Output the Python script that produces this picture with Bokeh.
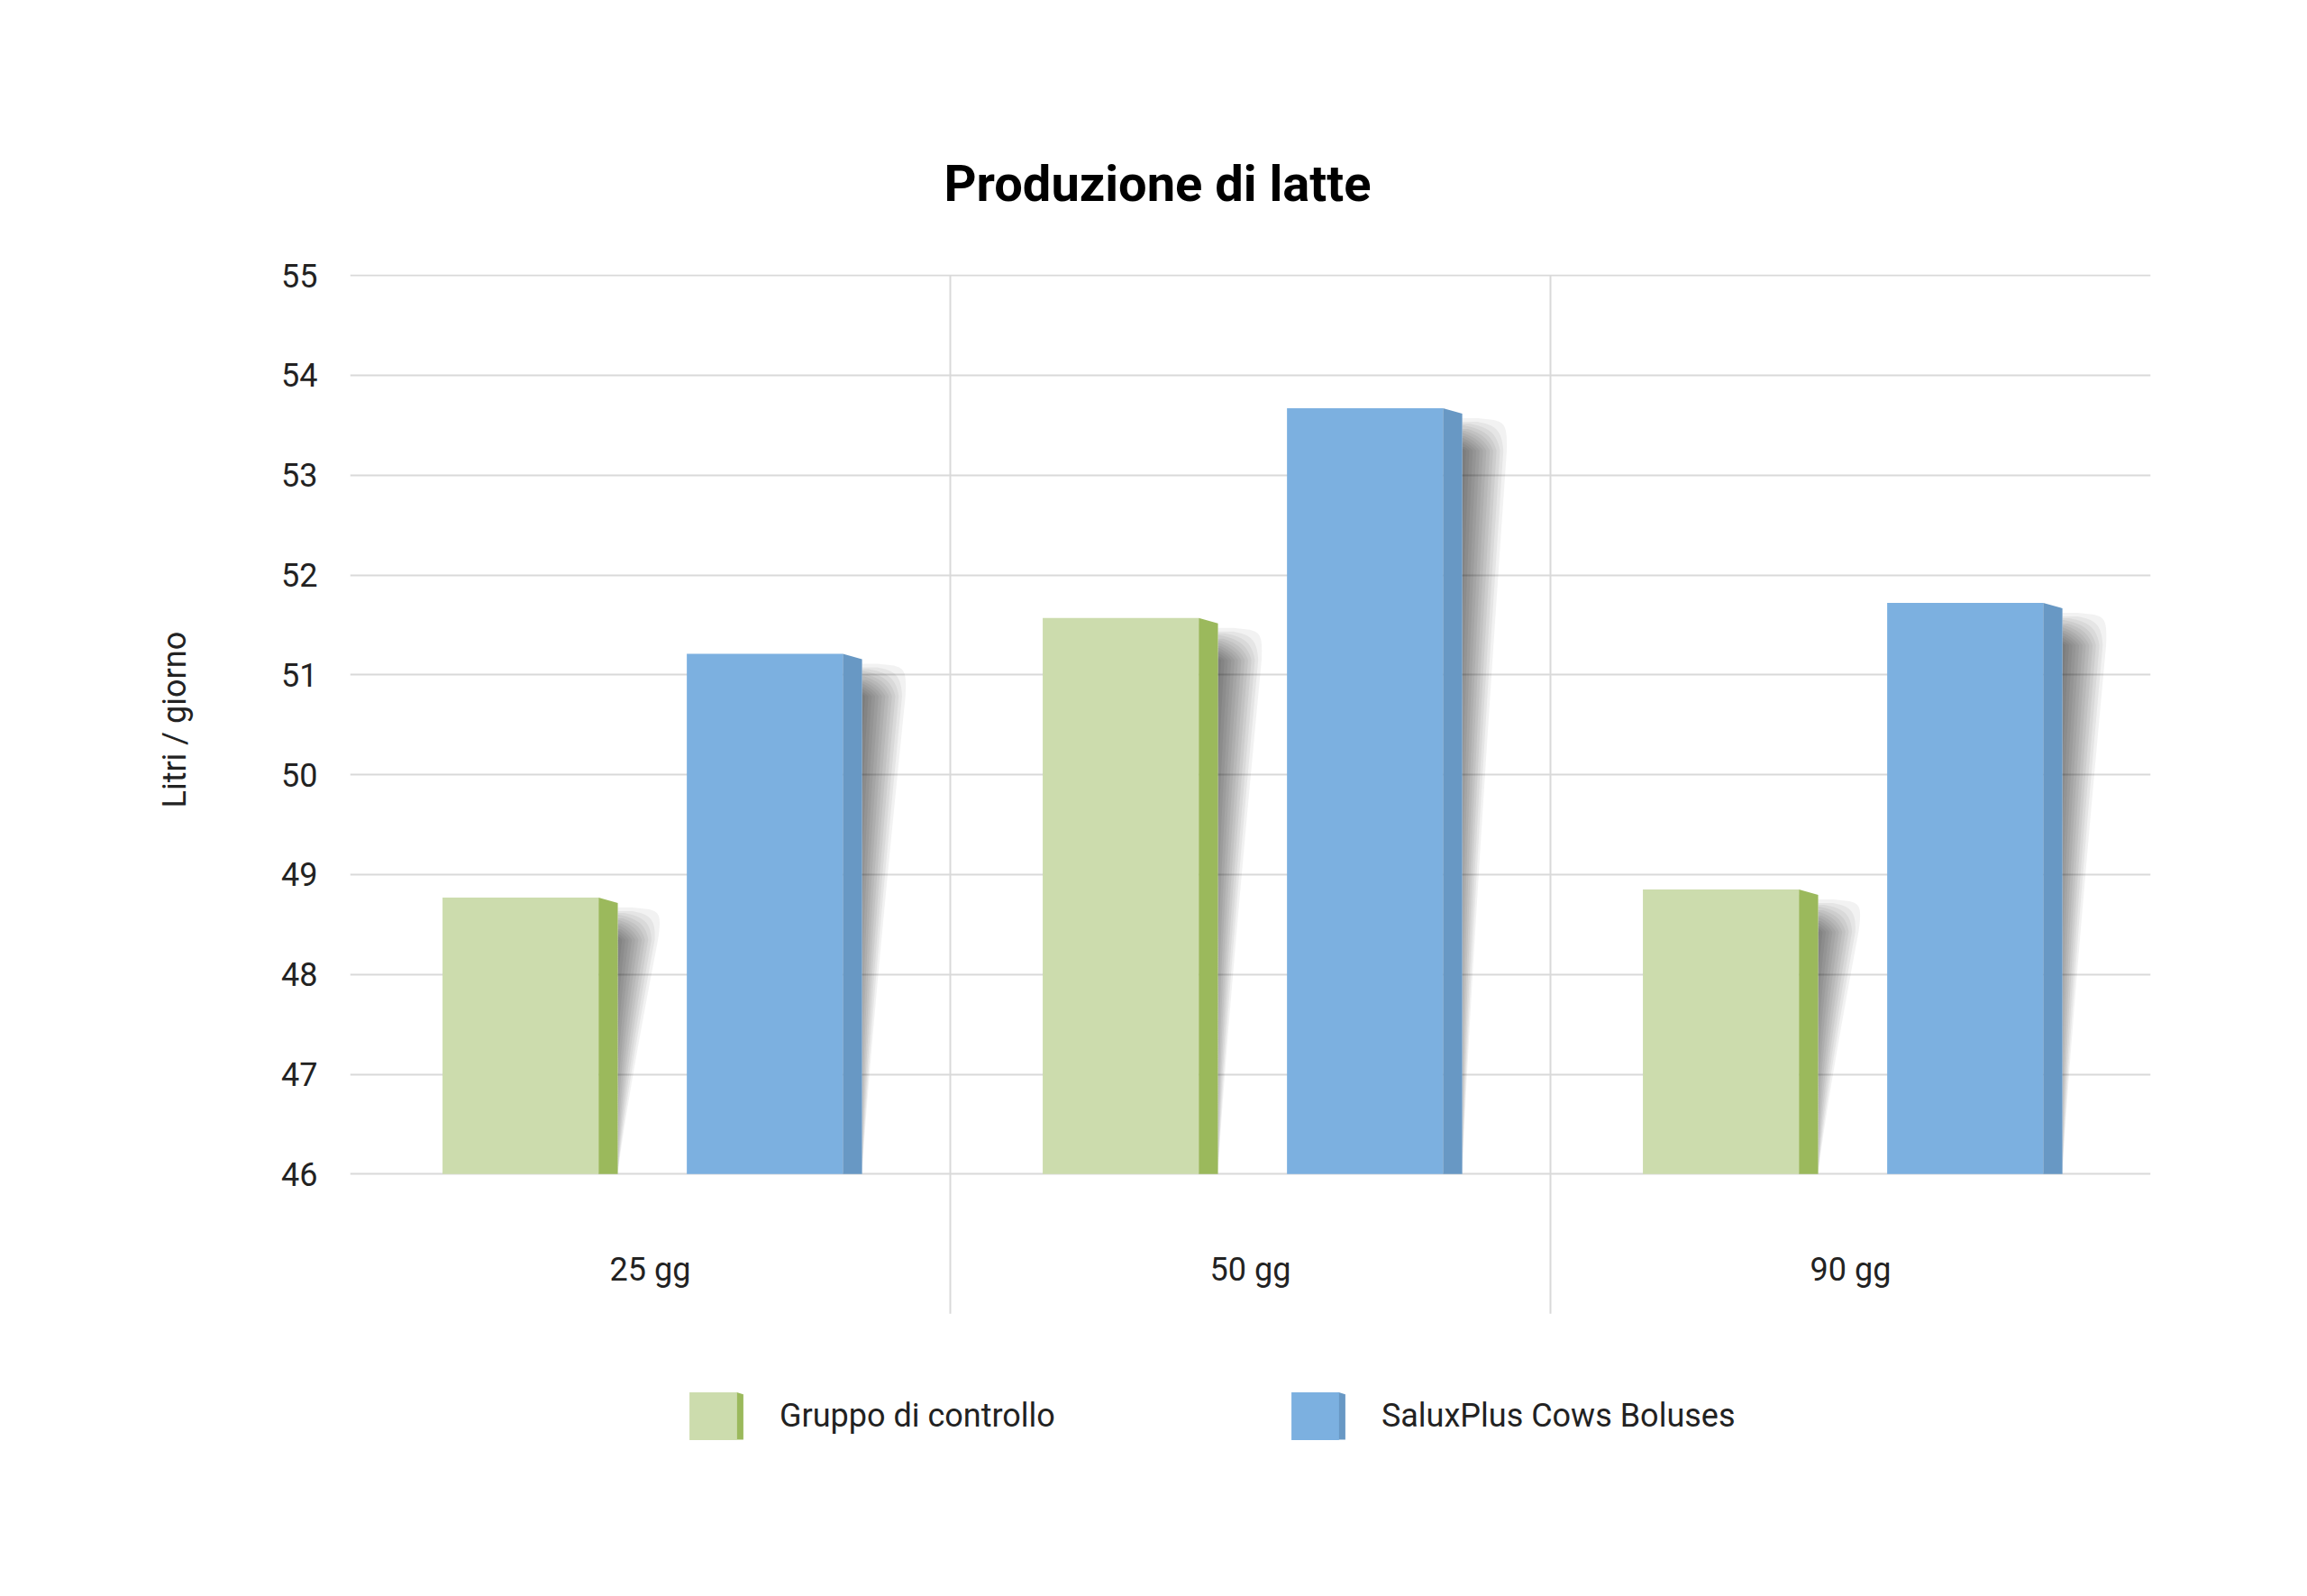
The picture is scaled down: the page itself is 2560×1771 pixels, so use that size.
import numpy as np
from bokeh.plotting import figure
from bokeh.models import Range1d, FixedTicker, Legend, LegendItem, Title
from bokeh.core.properties import value
from bokeh.embed import file_html
from bokeh.resources import INLINE

# ---------------- data ----------------
categories = ["25 gg", "50 gg", "90 gg"]
series_names = ["Gruppo di controllo", "SaluxPlus Cows Boluses"]
controllo = [48.77, 51.57, 48.85]
saluxplus = [51.21, 53.67, 51.72]
y_ticks = [46, 47, 48, 49, 50, 51, 52, 53, 54, 55]

# ---------------- layout / style ----------------
W, H = 2544, 1755
FL, FR, FT = 388, 2386, 304          # frame left/right/top (figure px)
Y46_PX = 1302                        # figure px of the y=46 line
FB = 1700                            # frame bottom (figure px), holds labels + legend
Y0, Y1 = 46, 55
PX_X = (FR - FL) / len(categories)
PX_Y = (Y46_PX - FT) / (Y1 - Y0)


def y_at(px):
    """data y for a figure pixel row"""
    return Y1 - (px - FT) / PX_Y


def x_at(px):
    """data x for a figure pixel column"""
    return (px - FL) / PX_X


FRONT = ["#CCDCAD", "#7CB0E0"]
SIDE = ["#9BB95C", "#6898C4"]
OFFS = [(0.154, 0.414, 0.446), (0.561, 0.821, 0.853)]
SLANT = 6 / PX_Y
GRID = "#d9d9d9"
FONT = "Roboto"

p = figure(width=W, height=H, output_backend="svg", toolbar_location=None,
           x_range=Range1d(0, len(categories)), y_range=Range1d(y_at(FB), Y1 + 0.01),
           min_border_left=FL, min_border_right=W - FR,
           min_border_top=FT, min_border_bottom=H - FB)
p.outline_line_color = None
p.background_fill_color = "white"

# title
p.title.text = "Produzione di latte"
p.title.align = "left"
p.title.offset = 1047 - FL
p.title.text_font = FONT
p.title.text_font_style = "bold"
p.title.text_font_size = "56px"
p.title.text_color = "#000000"
p.title.standoff = 136

# y axis
p.yaxis.ticker = FixedTicker(ticks=y_ticks)
p.yaxis.axis_line_color = None
p.yaxis.major_tick_line_color = None
p.yaxis.minor_tick_line_color = None
p.yaxis.major_label_standoff = 30
p.yaxis.major_label_text_font = FONT
p.yaxis.major_label_text_font_size = "36px"
p.yaxis.major_label_text_color = "#222222"

ytitle = Title(text="Litri / giorno", align="left", offset=FB - 896,
               text_font=FONT, text_font_size="36px", text_font_style="normal",
               text_color="#222222", standoff=190)
p.add_layout(ytitle, "left")

p.xaxis.visible = False
p.xgrid.grid_line_color = None
p.ygrid.grid_line_color = GRID
p.ygrid.grid_line_width = 2

# category separators and labels
bounds = [float(i) for i in range(1, len(categories))]
p.segment(x0=bounds, x1=bounds, y0=Y1, y1=y_at(1457), line_color=GRID, line_width=2)
centres = [i + 0.5 for i in range(len(categories))]
p.text(x=centres, y=[y_at(1408)] * len(categories), text=categories,
       text_font=value(FONT), text_font_size="36px", text_color="#222222",
       text_align="center", text_baseline="middle")


# ---------------- shadows ----------------
def shadow_polys(x_edge, top, n_layers=14, w_px=54.0, ramp_px=38.0):
    polys_x, polys_y = [], []
    s_top = top - SLANT - 3 / PX_Y
    span_px = (s_top - Y0) * PX_Y
    ys = list(s_top - np.arange(0, span_px, 2.0) / PX_Y) + [Y0]
    span = s_top - Y0
    for k in range(n_layers):
        th = (k + 0.5) / n_layers
        px, py = [], []
        for y in ys:
            t = (s_top - y) / span
            s = (s_top - y) * PX_Y
            hh = (1 - 0.65 * t) * min(1.0, s / ramp_px)
            if hh > th:
                wmax = w_px * (1 - t) ** 1.1
                d = wmax * (1 - th / hh)
                px.append(x_edge + d / PX_X)
                py.append(y)
        if len(px) >= 2:
            polys_x.append([x_edge] + px + [x_edge])
            polys_y.append([py[0]] + py + [py[-1]])
    return polys_x, polys_y


all_series = [controllo, saluxplus]
sx, sy = [], []
for si, vals in enumerate(all_series):
    o = OFFS[si]
    for i, v in enumerate(vals):
        xs_, ys_ = shadow_polys(i + o[2], v)
        sx += xs_
        sy += ys_
p.patches(sx, sy, fill_color="black", fill_alpha=0.05, line_color=None)

# ---------------- bars ----------------
front_renderers = []
for si, vals in enumerate(all_series):
    o = OFFS[si]
    lefts = [i + o[0] for i in range(len(vals))]
    rights = [i + o[1] for i in range(len(vals))]
    r = p.quad(left=lefts, right=rights, bottom=Y0, top=vals,
               fill_color=FRONT[si], line_color=None)
    front_renderers.append(r)
    side_x = [[i + o[1], i + o[2], i + o[2], i + o[1]] for i in range(len(vals))]
    side_y = [[v, v - SLANT, Y0, Y0] for v in vals]
    p.patches(side_x, side_y, fill_color=SIDE[si], line_color=None)

# ---------------- legend ----------------
GW, GH = 66, 66
LX = 370
STANDOFF, SPACING, LABEL1_W = 41, 255, 306
L_BOTTOM = 1570.5 + GH / 2
legend = Legend(items=[LegendItem(label=n, renderers=[r])
                       for n, r in zip(series_names, front_renderers)],
                orientation="horizontal", location=(LX, int(FB - L_BOTTOM)),
                glyph_width=GW, glyph_height=GH, label_standoff=STANDOFF, spacing=SPACING,
                label_text_font=FONT, label_text_font_size="36px",
                label_text_color="#222222", border_line_color=None,
                background_fill_alpha=0, padding=0, margin=0)
p.add_layout(legend, "center")

# side stripe of each legend swatch (3-D look like the bars)
box_lefts = [FL + LX, FL + LX + GW + STANDOFF + LABEL1_W + SPACING]
sw_top = L_BOTTOM - GH + 0.1 * GH
sw_bot = L_BOTTOM - 0.1 * GH
st_x, st_y = [], []
for bl in box_lefts:
    x0 = bl + 0.9 * GW - 1
    x1 = x0 + 8
    st_x.append([x_at(x0), x_at(x1), x_at(x1), x_at(x0)])
    st_y.append([y_at(sw_top), y_at(sw_top + 2.5), y_at(sw_bot), y_at(sw_bot)])
p.patches(st_x, st_y, fill_color=SIDE, line_color=None, level="overlay")

open("out.html", "w").write(file_html(p, INLINE))
